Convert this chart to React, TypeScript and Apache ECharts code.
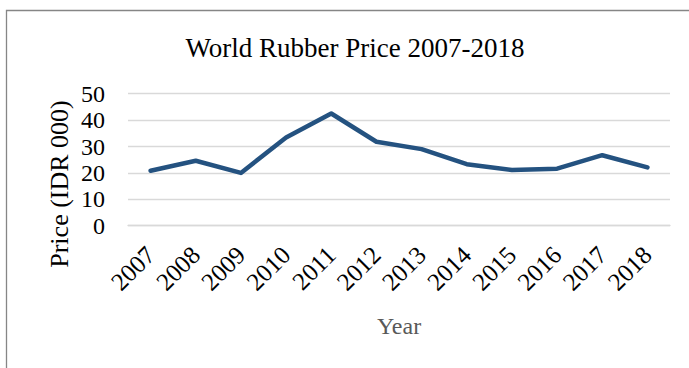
import React, { useEffect, useRef } from "react";
import * as echarts from "echarts";

const years = ["2007", "2008", "2009", "2010", "2011", "2012", "2013", "2014", "2015", "2016", "2017", "2018"];
const prices = [20.8, 24.6, 20.0, 33.4, 42.5, 31.8, 29.0, 23.3, 21.1, 21.6, 26.7, 22.1];
const titleText = "World Rubber Price 2007-2018";
const yName = "Price (IDR 000)";
const xName = "Year";

const FONT = "'Liberation Serif', 'Times New Roman', serif";

export default function App() {
  const ref = useRef<HTMLDivElement>(null);
  useEffect(() => {
    if (!ref.current) return;
    const chart = echarts.init(ref.current, null, { renderer: "svg" });
    chart.setOption({
      animation: false,
      backgroundColor: "#ffffff",
      title: {
        text: titleText,
        left: 350,
        top: 29,
        textAlign: "center",
        textStyle: { fontFamily: FONT, fontSize: 27, fontWeight: "normal", color: "#000" },
      },
      grid: { left: 128, right: 19, top: 93.7, bottom: 142.3, containLabel: false },
      xAxis: {
        type: "category",
        data: years,
        boundaryGap: true,
        name: xName,
        nameLocation: "middle",
        nameGap: 88,
        nameTextStyle: { fontFamily: FONT, fontSize: 24, color: "#595959" },
        axisLine: { show: true, lineStyle: { color: "#d9d9d9", width: 1.3 } },
        axisTick: { show: false },
        axisLabel: {
          rotate: 45,
          margin: 25,
          interval: 0,
          fontFamily: FONT,
          fontSize: 25,
          color: "#000",
        },
      },
      yAxis: {
        type: "value",
        min: 0,
        max: 50,
        interval: 10,
        axisLine: { show: false },
        axisTick: { show: false },
        splitLine: { lineStyle: { color: "#d9d9d9", width: 1.3 } },
        axisLabel: { margin: 23, fontFamily: FONT, fontSize: 24, color: "#000" },
      },
      graphic: [
        {
          type: "rect",
          shape: { x: 6.5, y: 10.5, width: 720, height: 400 },
          style: { fill: "none", stroke: "#868686", lineWidth: 1.3 },
          silent: true,
        },
        {
          type: "text",
          x: 59,
          y: 184,
          rotation: Math.PI / 2,
          style: {
            text: yName,
            fontFamily: FONT,
            fontSize: 26,
            fill: "#000",
            align: "center",
            verticalAlign: "middle",
          },
        },
      ],
      series: [
        {
          type: "line",
          data: prices,
          symbol: "none",
          lineStyle: { color: "#245280", width: 4.5, join: "round", cap: "round" },
        },
      ],
    });
    return () => chart.dispose();
  }, []);
  return <div ref={ref} style={{ position: "fixed", left: 0, top: 0, width: 689, height: 368 }} />;
}
